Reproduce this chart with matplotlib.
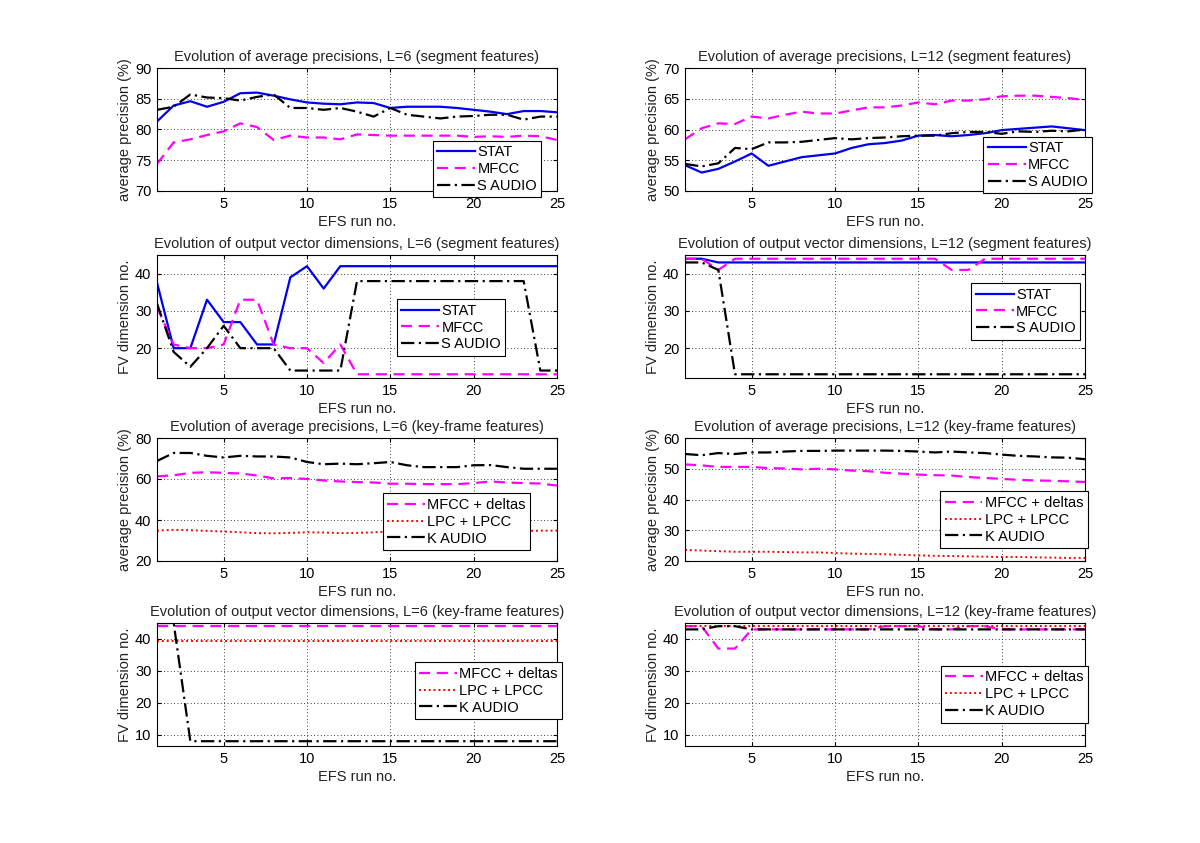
import matplotlib
matplotlib.use("Agg")
import matplotlib.pyplot as plt

plt.rcParams['font.family'] = ['Liberation Sans', 'DejaVu Sans']
FS = 10.5

runs = list(range(1, 26))

# L=6, segment features, average precision
seg6_stat = [81.3, 83.9, 84.6, 83.7, 84.5, 85.9, 86.0, 85.5, 84.9, 84.4, 84.2, 84.1, 84.4,
             84.3, 83.5, 83.7, 83.7, 83.7, 83.5, 83.2, 82.9, 82.5, 83.0, 83.0, 82.8]
seg6_mfcc = [74.4, 77.9, 78.4, 79.1, 79.7, 81.0, 80.4, 78.3, 79.0, 78.7, 78.7, 78.4, 79.2,
             79.1, 79.0, 79.0, 79.0, 79.0, 79.0, 78.8, 78.9, 78.8, 79.0, 78.9, 78.3]
seg6_saudio = [83.2, 83.7, 85.7, 85.2, 85.1, 84.7, 85.3, 85.7, 83.5, 83.5, 83.2, 83.5, 82.9,
               82.1, 83.5, 82.4, 82.1, 81.8, 82.1, 82.2, 82.4, 82.4, 81.6, 82.1, 82.1]

# L=12, segment features, average precision
seg12_stat = [54.2, 53.0, 53.6, 54.8, 56.1, 54.1, 54.8, 55.5, 55.8, 56.1, 57.0, 57.6, 57.8,
              58.2, 59.0, 59.1, 58.9, 59.1, 59.4, 59.9, 60.1, 60.3, 60.5, 60.2, 59.9]
seg12_mfcc = [58.4, 60.2, 61.0, 60.9, 62.1, 61.8, 62.4, 62.9, 62.6, 62.6, 63.1, 63.6, 63.6,
              63.9, 64.4, 64.1, 64.7, 64.7, 64.9, 65.4, 65.5, 65.5, 65.3, 65.1, 64.8]
seg12_saudio = [54.4, 54.0, 54.5, 57.0, 56.8, 57.9, 57.9, 58.0, 58.3, 58.6, 58.4, 58.6, 58.7,
                58.9, 59.0, 59.0, 59.4, 59.6, 59.6, 59.3, 59.7, 59.6, 59.8, 59.7, 60.0]

# L=6, segment features, output dimensions
dim6_stat = [37.6, 20, 20, 33, 27, 27, 21, 21, 39, 42, 36, 42, 42,
             42, 42, 42, 42, 42, 42, 42, 42, 42, 42, 42, 42]
dim6_mfcc = [31, 21, 20, 20, 21, 33, 33, 21, 20, 20, 16, 21, 13,
             13, 13, 13, 13, 13, 13, 13, 13, 13, 13, 13, 13]
dim6_saudio = [32, 19, 15, 20, 26, 20, 20, 20, 14, 14, 14, 14, 38,
               38, 38, 38, 38, 38, 38, 38, 38, 38, 38, 14, 14]

# L=12, segment features, output dimensions
dim12_stat = [44, 44, 43, 43, 43, 43, 43, 43, 43, 43, 43, 43, 43,
              43, 43, 43, 43, 43, 43, 43, 43, 43, 43, 43, 43]
dim12_mfcc = [44, 44, 41, 44, 44, 44, 44, 44, 44, 44, 44, 44, 44,
              44, 44, 44, 41, 41, 44, 44, 44, 44, 44, 44, 44]
dim12_saudio = [43, 43, 41, 13, 13, 13, 13, 13, 13, 13, 13, 13, 13,
                13, 13, 13, 13, 13, 13, 13, 13, 13, 13, 13, 13]

# L=6, key-frame features, average precision
kf6_mfcc = [61.3, 61.8, 63.0, 63.3, 63.0, 62.7, 61.7, 60.3, 60.5, 60.0, 59.3, 58.8, 58.5,
            58.3, 57.7, 57.7, 57.5, 57.5, 57.5, 58.0, 58.8, 58.3, 58.0, 57.8, 56.8]
kf6_lpc = [34.8, 35.2, 35.0, 34.7, 34.4, 34.0, 33.6, 33.5, 33.7, 34.0, 33.9, 33.6, 33.7,
           34.0, 34.4, 34.5, 34.6, 34.5, 34.6, 34.7, 34.5, 34.5, 34.7, 34.8, 34.8]
kf6_kaudio = [68.8, 72.7, 72.7, 71.3, 70.5, 71.3, 71.0, 71.0, 70.5, 68.3, 67.2, 67.5, 67.2,
              67.7, 68.3, 66.7, 65.8, 65.8, 65.8, 66.7, 66.8, 65.8, 65.0, 65.0, 65.0]

# L=12, key-frame features, average precision
kf12_mfcc = [51.4, 51.1, 50.6, 50.6, 50.6, 50.2, 50.1, 49.8, 50.0, 49.8, 49.4, 49.2, 48.7,
             48.4, 48.1, 47.9, 47.8, 47.3, 47.0, 46.7, 46.4, 46.2, 46.1, 45.9, 45.7]
kf12_lpc = [23.6, 23.4, 23.2, 23.0, 23.0, 23.0, 22.9, 22.8, 22.8, 22.6, 22.4, 22.3, 22.2,
            22.0, 21.8, 21.7, 21.6, 21.5, 21.4, 21.3, 21.3, 21.2, 21.1, 21.0, 21.0]
kf12_kaudio = [54.8, 54.4, 55.1, 54.8, 55.3, 55.3, 55.6, 55.8, 55.8, 55.9, 55.9, 55.9, 55.9,
               55.8, 55.6, 55.3, 55.6, 55.3, 55.1, 54.6, 54.2, 54.0, 53.7, 53.6, 53.1]

# L=6, key-frame features, output dimensions
kdim6_mfcc = [44] * 25
kdim6_lpc = [39.5] * 25
kdim6_kaudio = [45, 45, 8, 8, 8, 8, 8, 8, 8, 8, 8, 8, 8,
                8, 8, 8, 8, 8, 8, 8, 8, 8, 8, 8, 8]

# L=12, key-frame features, output dimensions
kdim12_mfcc = [44, 44, 37, 37, 43, 43, 43, 43, 43, 43, 43, 43, 44,
               44, 44, 43, 43, 44, 44, 43, 43, 43, 43, 43, 43]
kdim12_lpc = [44] * 25
kdim12_kaudio = [43, 43, 44, 44, 43, 43, 43, 43, 43, 43, 43, 43, 43,
                 43, 43, 43, 43, 43, 43, 43, 43, 43, 43, 43, 43]

seg_names = ['STAT', 'MFCC', 'S AUDIO']
kf_names = ['MFCC + deltas', 'LPC + LPCC', 'K AUDIO']

BLUE = '#0000ee'
MAG = '#ff00ff'

fig = plt.figure(figsize=(12, 8.43), dpi=100)

W, H = 1200.0, 843.0
lefts = [157, 685]
tops = [68, 255, 438, 623]
aw, ah = 400, 123


def make_ax(row, col):
    l = lefts[col] / W
    b = 1 - (tops[row] + ah) / H
    return fig.add_axes([l, b, aw / W, ah / H])


def style(ax, title, ylabel, ylim, yticks):
    ax.set_xlim(1, 25)
    ax.set_xticks([5, 10, 15, 20, 25])
    ax.set_ylim(*ylim)
    ax.set_yticks(yticks)
    ax.grid(True, linestyle=(0, (1, 3)), color='black', linewidth=0.6)
    ax.tick_params(direction='in', length=3, top=True, right=True, labelsize=FS, pad=4)
    ax.set_title(title, fontsize=FS, pad=5, color='#222222')
    ax.set_ylabel(ylabel, fontsize=FS, labelpad=2, color='#222222')
    ax.set_xlabel('EFS run no.', fontsize=FS, labelpad=3, color='#222222')
    for s in ax.spines.values():
        s.set_linewidth(0.8)


def legend(ax, pos):
    leg = ax.legend(loc='lower left', bbox_to_anchor=pos, borderaxespad=0,
                    fancybox=False, framealpha=1, edgecolor='black',
                    fontsize=FS, handlelength=2.6, handletextpad=0.15,
                    labelspacing=0.2, borderpad=0.3)
    leg.get_frame().set_linewidth(0.8)


def seg_lines(ax, a, b, c):
    ax.plot(runs, a, color=BLUE, lw=1.6, ls='-', label=seg_names[0])
    ax.plot(runs, b, color=MAG, lw=1.6, ls=(0, (5, 3)), label=seg_names[1])
    ax.plot(runs, c, color='black', lw=1.6, ls=(0, (6, 2, 1, 2)), label=seg_names[2])


def kf_lines(ax, a, b, c):
    ax.plot(runs, a, color=MAG, lw=1.6, ls=(0, (5, 3)), label=kf_names[0])
    ax.plot(runs, b, color='red', lw=1.4, ls=(0, (1, 1.5)), label=kf_names[1])
    ax.plot(runs, c, color='black', lw=1.6, ls=(0, (6, 2, 1, 2)), label=kf_names[2])


ax = make_ax(0, 0)
seg_lines(ax, seg6_stat, seg6_mfcc, seg6_saudio)
style(ax, 'Evolution of average precisions, L=6 (segment features)',
      'average precision (%)', (70, 90), [70, 75, 80, 85, 90])
legend(ax, (0.69, -0.05))

ax = make_ax(0, 1)
seg_lines(ax, seg12_stat, seg12_mfcc, seg12_saudio)
style(ax, 'Evolution of average precisions, L=12 (segment features)',
      'average precision (%)', (50, 70), [50, 55, 60, 65, 70])
legend(ax, (0.746, -0.02))

ax = make_ax(1, 0)
seg_lines(ax, dim6_stat, dim6_mfcc, dim6_saudio)
style(ax, 'Evolution of output vector dimensions, L=6 (segment features)',
      'FV dimension no.', (12, 45), [20, 30, 40])
legend(ax, (0.60, 0.18))

ax = make_ax(1, 1)
seg_lines(ax, dim12_stat, dim12_mfcc, dim12_saudio)
style(ax, 'Evolution of output vector dimensions, L=12 (segment features)',
      'FV dimension no.', (12, 45), [20, 30, 40])
legend(ax, (0.716, 0.31))

ax = make_ax(2, 0)
kf_lines(ax, kf6_mfcc, kf6_lpc, kf6_kaudio)
style(ax, 'Evolution of average precisions, L=6 (key-frame features)',
      'average precision (%)', (20, 80), [20, 40, 60, 80])
legend(ax, (0.565, 0.09))

ax = make_ax(2, 1)
kf_lines(ax, kf12_mfcc, kf12_lpc, kf12_kaudio)
style(ax, 'Evolution of average precisions, L=12 (key-frame features)',
      'average precision (%)', (20, 60), [20, 30, 40, 50, 60])
legend(ax, (0.638, 0.106))

ax = make_ax(3, 0)
kf_lines(ax, kdim6_mfcc, kdim6_lpc, kdim6_kaudio)
style(ax, 'Evolution of output vector dimensions, L=6 (key-frame features)',
      'FV dimension no.', (6.5, 45), [10, 20, 30, 40])
legend(ax, (0.645, 0.22))

ax = make_ax(3, 1)
kf_lines(ax, kdim12_mfcc, kdim12_lpc, kdim12_kaudio)
style(ax, 'Evolution of output vector dimensions, L=12 (key-frame features)',
      'FV dimension no.', (6.5, 45), [10, 20, 30, 40])
legend(ax, (0.64, 0.19))

fig.savefig('out.png', dpi=100, facecolor='white')
